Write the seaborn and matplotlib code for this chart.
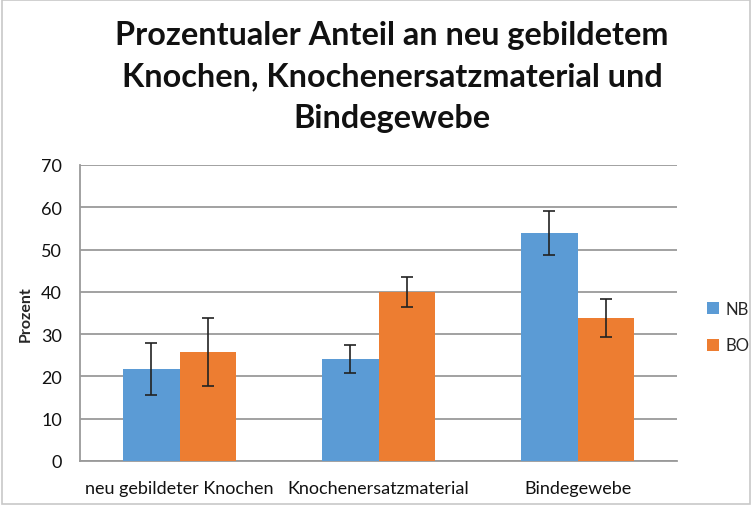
import matplotlib
matplotlib.use("Agg")
import matplotlib.pyplot as plt
import seaborn as sns
import pandas as pd
import numpy as np
from matplotlib.patches import Patch

categories = ["neu gebildeter Knochen", "Knochenersatzmaterial", "Bindegewebe"]
series = ["NB", "BO"]
nb_values = [21.7, 24.1, 54.0]
bo_values = [25.7, 40.0, 33.9]
nb_err = [6.1, 3.3, 5.2]
bo_err = [8.0, 3.6, 4.5]
title = "Prozentualer Anteil an neu gebildetem\nKnochen, Knochenersatzmaterial und\nBindegewebe"

sns.set_theme(style="white")
plt.rcParams['font.family'] = ['Lato', 'DejaVu Sans']

df = pd.DataFrame({
    "Kategorie": categories * 2,
    "Serie": [series[0]] * 3 + [series[1]] * 3,
    "Wert": nb_values + bo_values,
    "Fehler": nb_err + bo_err,
})

fig = plt.figure(figsize=(7.52, 5.06), dpi=100)
ax = fig.add_axes([80 / 752, 1 - 462 / 506, (677 - 80) / 752, (462 - 166) / 506])

palette = {"NB": "#5B9BD5", "BO": "#ED7D31"}
sns.barplot(data=df, x="Kategorie", y="Wert", hue="Serie", palette=palette,
            order=categories, hue_order=series, width=0.57, errorbar=None,
            saturation=1, linewidth=0, ax=ax, zorder=3, legend=False)

# error bars from bar geometry
errs = nb_err + bo_err
for patch, e in zip(ax.patches[:6], errs):
    cx = patch.get_x() + patch.get_width() / 2
    ax.errorbar(cx, patch.get_height(), yerr=e, color="#222222", elinewidth=1.2,
                capsize=4, capthick=1.2, zorder=4)

ax.set_ylim(0, 70)
ax.set_yticks(range(0, 71, 10))
ax.set_xlim(-0.5, 2.5)
ax.yaxis.grid(True, color="#9a9a9a", linewidth=1.3, zorder=0)
ax.set_axisbelow(True)
for s in ["top", "right"]:
    ax.spines[s].set_visible(False)
for s in ["left", "bottom"]:
    ax.spines[s].set_color("#9a9a9a")
    ax.spines[s].set_linewidth(1.3)
ax.tick_params(axis="both", length=0, labelsize=13, colors="#111111")
ax.tick_params(axis="x", pad=14)
ax.tick_params(axis="y", pad=13)
ax.set_xlabel("")
ax.set_ylabel("Prozent", fontsize=11.5, fontweight="bold", labelpad=6)

handles = [Patch(facecolor=palette[s], edgecolor="none") for s in series]
fig.legend(handles, series, loc="center left", bbox_to_anchor=(700 / 752, 1 - 328 / 506),
           frameon=False, fontsize=12, handlelength=0.75, handleheight=0.75,
           labelspacing=1.25, handletextpad=0.4, borderaxespad=0)

fig.text(392 / 752, 1 - 77 / 506, title, ha="center", va="center",
         fontsize=23.3, fontweight="bold", linespacing=1.53, color="#111111")

fig.patches.append(plt.Rectangle((0.002, 0.002), 0.996, 0.996, transform=fig.transFigure,
                                 fill=False, edgecolor="#c8c8c8", linewidth=1.2))

fig.savefig("out.png", dpi=100)
